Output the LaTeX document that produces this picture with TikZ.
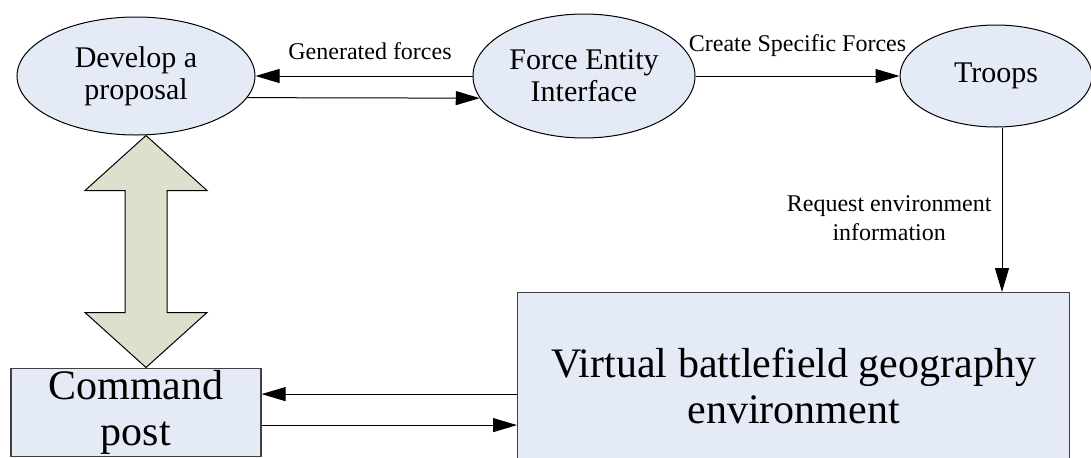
\documentclass[tikz,border=0pt]{standalone}
\usepackage{fontspec}
\setmainfont{Liberation Serif}
\usetikzlibrary{shapes.geometric,arrows.meta,positioning,calc}
\definecolor{ovalfill}{RGB}{229,235,246}
\definecolor{arrowfill}{RGB}{220,224,204}
\newcommand{\ovalsize}{\fontsize{15}{16}\selectfont}
\newcommand{\labelsize}{\fontsize{12}{14.5}\selectfont}
\newcommand{\boxsize}{\fontsize{21}{23}\selectfont}

\begin{document}
\begin{tikzpicture}[
    oval/.style={
        ellipse,
        draw,
        fill=ovalfill,
        inner sep=0pt,
        align=center,
        font=\ovalsize,
        line width=0.5pt
    },
    block/.style={
        rectangle,
        draw=black!75,
        fill=ovalfill,
        inner sep=0pt,
        align=center,
        font=\boxsize,
        line width=0.6pt
    },
    line/.style={
        draw,
        -{Triangle[length=12pt,width=7pt]},
        line width=0.5pt
    },
    bigarrow/.style={
        draw,
        fill=arrowfill,
        line width=0.5pt
    }
]
    \useasboundingbox (0,0) rectangle (545.5pt,228.5pt);

    % --- Top Row: Ellipses ---
    \node [oval, minimum width=119pt, minimum height=59pt] (prop) at (68pt,190.5pt) {Develop a\\proposal};
    \node [oval, minimum width=111pt, minimum height=62pt, right=108.5pt of prop] (fei) {Force Entity\\Interface};
    \node [oval, minimum width=96pt, minimum height=51pt, right=102pt of fei] (troops) {Troops};

    % --- Bottom Row: Boxes ---
    \node [block, minimum width=125pt, minimum height=44pt, below=116pt of prop] (cmd) {Command\\post};
    \node [block, minimum width=276pt, minimum height=93pt, anchor=north west] (vbg) at (258.5pt,82.5pt) {Virtual battlefield geography\\environment};

    % --- Connections ---
    \path [line] (fei.west) -- node[above=8pt, xshift=3pt, inner sep=0pt, font=\labelsize] {Generated forces} (prop.east);
    \path [line] (prop.-11.3) -- (fei.192);
    \path [line] (fei.east) -- node[above=9.5pt, inner sep=0pt, font=\labelsize] {Create Specific Forces} (troops.west);

    % Troops -> environment
    \coordinate (tr) at ([xshift=3pt]troops.south);
    \path [line] (tr) -- node[pos=0.55, left=5pt, inner sep=0pt, align=center, font=\labelsize] {Request environment\\information} (tr |- vbg.north);

    % Command post <-> environment
    \coordinate (c1) at ([yshift=9pt]cmd.east);
    \coordinate (c2) at ([yshift=-6.5pt]cmd.east);
    \path [line] (c1 -| vbg.west) -- (c1);
    \path [line] (c2) -- (c2 -| vbg.west);

    % Big double arrow: proposal <-> command post
    \path [bigarrow] let \p1=([xshift=5pt]prop.south), \p2=(cmd.north) in
        (\p1) -- (\x1-30.5pt,\y1-27.5pt) -- (\x1-10.5pt,\y1-27.5pt)
        -- (\x1-10.5pt,\y2+27.5pt) -- (\x1-30.5pt,\y2+27.5pt) -- (\x1,\y2)
        -- (\x1+30.5pt,\y2+27.5pt) -- (\x1+10.5pt,\y2+27.5pt)
        -- (\x1+10.5pt,\y1-27.5pt) -- (\x1+30.5pt,\y1-27.5pt) -- cycle;

\end{tikzpicture}
\end{document}
